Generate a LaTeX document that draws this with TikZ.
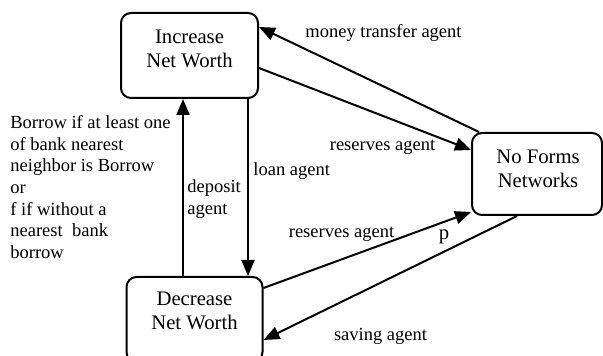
\documentclass[tikz,border=0pt]{standalone}
\usepackage{fontspec}
\setmainfont{Liberation Serif}
\usetikzlibrary{arrows.meta}
\begin{document}
\begin{tikzpicture}[x=0.5pt,y=-0.5pt,
  box/.style={draw,line width=1pt,rounded corners=5pt,inner sep=0pt},
  boxtext/.style={align=center,inner sep=0pt,font=\fontsize{10.35}{12.3}\selectfont},
  lbl/.style={inner sep=0pt,font=\fontsize{9.25}{10.85}\selectfont},
  arr/.style={line width=1pt,-{Triangle[length=8pt,width=6.5pt]}}]
\useasboundingbox (0,0) rectangle (603,356);
\clip (0,0) rectangle (603,356);
% boxes
\node[box,minimum width=68.5pt,minimum height=42.5pt] (inc) at (189.5,55.5) {};
\node[boxtext] (inctext) at (189.5,49) {Increase\\Net Worth};
\node[box,minimum width=68pt,minimum height=42.5pt] (dec) at (194.5,319.5) {};
\node[boxtext] (dectext) at (194.5,311) {Decrease\\Net Worth};
\node[box,minimum width=65pt,minimum height=41pt] (nf) at (537,174) {};
\node[boxtext] (nftext) at (538,169) {No Forms\\Networks};
% connectors
\draw[arr] ([xshift=4pt]nf.north west) -- ([yshift=14.25pt]inc.east);
\draw[arr] ([yshift=-6.25pt]inc.east) -- ([yshift=12pt]nf.west);
\draw[arr] ([xshift=29.25pt]inc.south) -- ([xshift=26.75pt]dec.north);
\draw[arr] ([xshift=-5.75pt]dec.north) -- ([xshift=-3.25pt]inc.south);
\draw[arr] ([yshift=15.75pt]dec.east) -- ([yshift=-19pt]nf.west);
\draw[arr] ([xshift=-10pt]nf.south) -- ([yshift=-10.25pt]dec.east);
% labels
\node[lbl] (lmoney) at (383.5,33) {money transfer agent};
\node[lbl] (lres1) at (382.5,147) {reserves agent};
\node[lbl,anchor=west] (lloan) at (253,171) {loan agent};
\node[lbl,anchor=west,align=left] (ldep) at (187,199) {deposit\\agent};
\node[lbl] (lres2) at (341.5,234) {reserves agent};
\node[boxtext] (lp) at (444,237) {p};
\node[lbl] (lsav) at (380.5,336) {saving agent};
\node[lbl,anchor=north west,align=left] (lnote) at (10,115) {Borrow if at least one\\of bank nearest\\neighbor is Borrow\\or\\f if without a\\nearest~~bank\\borrow};
\end{tikzpicture}
\end{document}
